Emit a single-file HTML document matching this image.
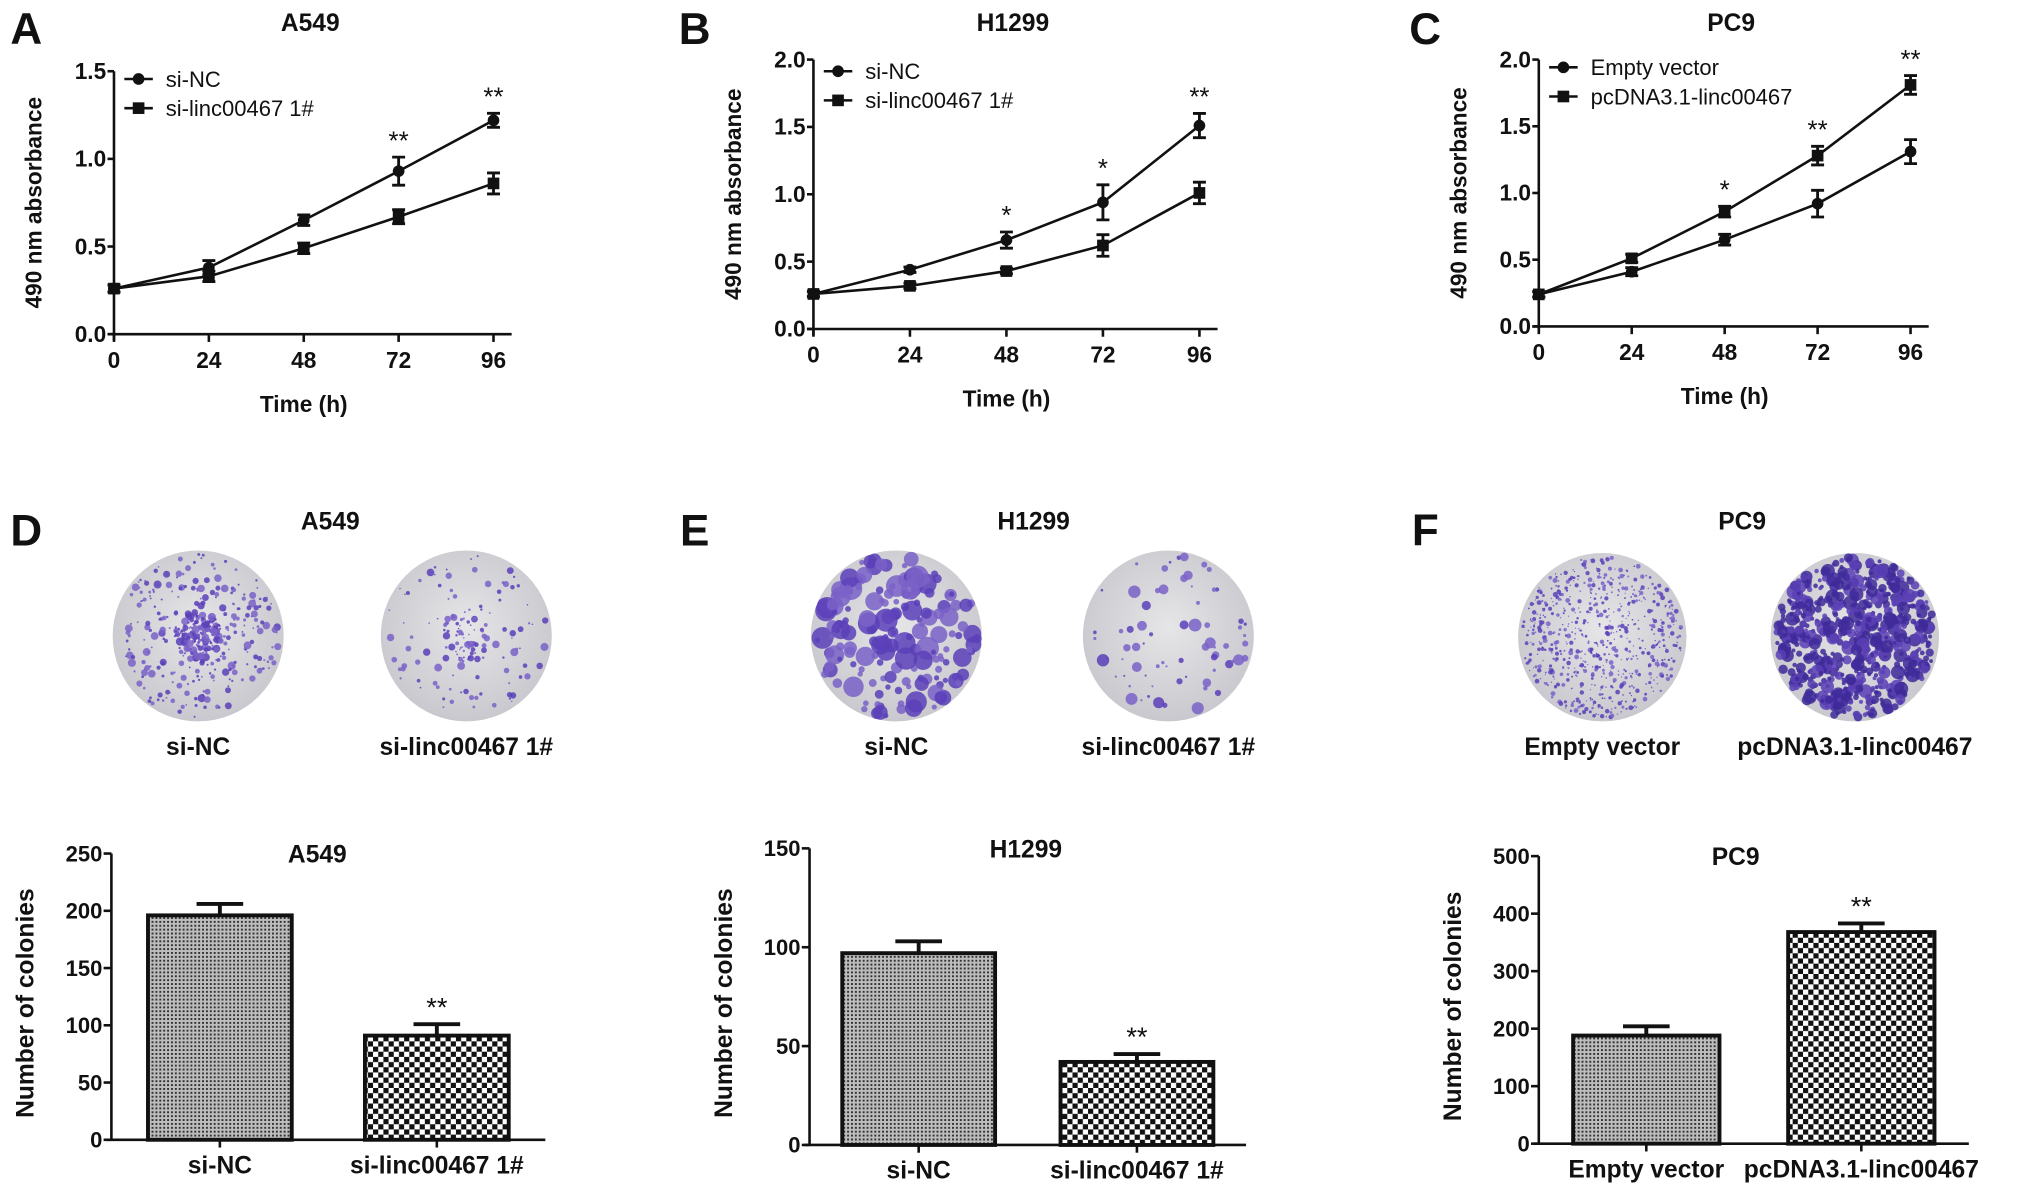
<!DOCTYPE html>
<html><head><meta charset="utf-8">
<style>
html,body{margin:0;padding:0;background:#fff;}
svg{display:block;font-family:"Liberation Sans",Arial,sans-serif;}
</style></head>
<body>
<svg id="fig" width="2031" height="1196" viewBox="0 0 1568 923.4" preserveAspectRatio="none" xmlns="http://www.w3.org/2000/svg">
<defs>
<pattern id="pFine" width="3" height="3" patternUnits="userSpaceOnUse"><rect width="3" height="3" fill="#bdbdbd"/><rect width="1.5" height="1.5" fill="#333"/></pattern>
<pattern id="pCheck" width="8" height="8" patternUnits="userSpaceOnUse"><rect width="8" height="8" fill="#fff"/><rect width="4" height="4" fill="#111"/><rect x="4" y="4" width="4" height="4" fill="#111"/></pattern>
<radialGradient id="dishBg" cx="50%" cy="45%" r="55%"><stop offset="0" stop-color="#e6e6e8"/><stop offset="1" stop-color="#c8c8ce"/></radialGradient>
</defs>
</svg>
<script>
// ---------- line chart data ----------
const times = [0, 24, 48, 72, 96];
const aNC = [0.26, 0.38, 0.65, 0.93, 1.22];
const aNCerr = [0.02, 0.04, 0.03, 0.08, 0.04];
const aSi = [0.26, 0.33, 0.49, 0.67, 0.86];
const aSiErr = [0.02, 0.03, 0.03, 0.04, 0.06];
const aStars = ["", "", "", "**", "**"];
const bNC = [0.26, 0.44, 0.66, 0.94, 1.51];
const bNCerr = [0.02, 0.02, 0.06, 0.13, 0.09];
const bSi = [0.26, 0.32, 0.43, 0.62, 1.01];
const bSiErr = [0.02, 0.02, 0.02, 0.08, 0.08];
const bStars = ["", "", "*", "*", "**"];
const cPc = [0.24, 0.51, 0.86, 1.28, 1.81];
const cPcErr = [0.02, 0.03, 0.04, 0.07, 0.07];
const cEv = [0.24, 0.41, 0.65, 0.92, 1.31];
const cEvErr = [0.02, 0.03, 0.04, 0.10, 0.09];
const cStars = ["", "", "*", "**", "**"];
const yTicksA = [0, 0.5, 1.0, 1.5];
const yTicksBC = [0, 0.5, 1.0, 1.5, 2.0];
// ---------- bar chart data ----------
const dCats = ["si-NC", "si-linc00467 1#"];
const dVals = [196, 91];
const dErr = [10, 10];
const eCats = ["si-NC", "si-linc00467 1#"];
const eVals = [97, 42];
const eErr = [6, 4];
const fCats = ["Empty vector", "pcDNA3.1-linc00467"];
const fVals = [188, 368];
const fErr = [16, 15];
const dTicks = [0, 50, 100, 150, 200, 250];
const eTicks = [0, 50, 100, 150];
const fTicks = [0, 100, 200, 300, 400, 500];

const NS = "http://www.w3.org/2000/svg";
const svg = document.getElementById("fig");
function mk(tag, attrs, parent, text) {
  const e = document.createElementNS(NS, tag);
  for (const k in attrs) e.setAttribute(k, attrs[k]);
  if (text !== undefined) e.textContent = text;
  (parent || svg).appendChild(e);
  return e;
}
function txt(x, y, s, size, opts, parent) {
  const o = Object.assign({x: x, y: y, "font-size": size, "text-anchor": "middle", "font-weight": "bold", fill: "#111"}, opts || {});
  return mk("text", o, parent, s);
}

function lineChart(cfg) {
  const g = mk("g", {});
  
  
  const X = v => cfg.x0 + (v - 0) / 96 * (cfg.x1 - cfg.x0);
  const Y = v => cfg.y0 - v / cfg.ymax * (cfg.y0 - cfg.y1);
  const ya = mk("line", {x1: cfg.x0, y1: Y(cfg.ymax), x2: cfg.x0, y2: cfg.y0 + 5, stroke: "#111", "stroke-width": 2}, g);
  
  
  const xa = mk("line", {x1: cfg.x0 - 5, y1: cfg.y0, x2: cfg.x1 + 14, y2: cfg.y0, stroke: "#111", "stroke-width": 2}, g);
  
  
  cfg.yticks.forEach(t => {
    mk("line", {x1: cfg.x0 - 5, y1: Y(t), x2: cfg.x0, y2: Y(t), stroke: "#111", "stroke-width": 2}, g);
    const l = txt(cfg.x0 - 6, Y(t) + 6, t.toFixed(1), 17.5, {"text-anchor": "end"}, g);
    
    
  });
  times.forEach(t => {
    mk("line", {x1: X(t), y1: cfg.y0, x2: X(t), y2: cfg.y0 + 6, stroke: "#111", "stroke-width": 2}, g);
    const l = txt(X(t), cfg.y0 + 26, String(t), 17.5, {}, g);
    
    
  });
  const yt = txt(0, 0, "490  nm absorbance", 17.5, {transform: `translate(${cfg.x0 - 56},${(cfg.y0 + Y(cfg.ymax)) / 2}) rotate(-90)`}, g);
  
  
  const xt = txt((cfg.x0 + cfg.x1) / 2, cfg.y0 + 60, "Time (h)", 17.5, {}, g);
  
  
  const tt = txt((cfg.x0 + cfg.x1) / 2 + 5, 24, cfg.title, 19, {}, g);
  
  
  const pl = txt(cfg.panelX, 34, cfg.panel, 34, {"text-anchor": "start"}, g);
  
  
  cfg.series.forEach(s => {
    const sg = mk("g", {}, g);
    
    
    const pts = times.map((t, i) => X(t) + "," + Y(s.vals[i])).join(" ");
    mk("polyline", {points: pts, fill: "none", stroke: "#111", "stroke-width": 2}, sg);
    times.forEach((t, i) => {
      const x = X(t), y = Y(s.vals[i]), e = s.err[i];
      const yt1 = Y(s.vals[i] + e), yt2 = Y(s.vals[i] - e);
      mk("path", {d: `M${x},${yt1}V${yt2}M${x - 5},${yt1}H${x + 5}M${x - 5},${yt2}H${x + 5}`, stroke: "#111", "stroke-width": 2.2, fill: "none"}, sg);
      if (s.marker === "circle") {
        const m = mk("circle", {cx: x, cy: y, r: 4.5, fill: "#111"}, sg);
        
        
      } else {
        const m = mk("rect", {x: x - 4.5, y: y - 4.5, width: 9, height: 9, fill: "#111"}, sg);
        
        
      }
      if (s.stars && s.stars[i]) {
        const st = txt(x, yt1 - 6, s.stars[i], 20, {"font-weight": "normal"}, sg);
        
        
      }
    });
  });
  cfg.legend.forEach((L, i) => {
    const lg = mk("g", {}, g);
    
    
    const ly = cfg.legY + i * 22.5;
    const lx = cfg.x0 + 8;
    mk("line", {x1: lx, y1: ly, x2: lx + 22, y2: ly, stroke: "#111", "stroke-width": 2}, lg);
    if (L.marker === "circle") mk("circle", {cx: lx + 11, cy: ly, r: 4.5, fill: "#111"}, lg);
    else mk("rect", {x: lx + 6.5, y: ly - 4.5, width: 9, height: 9, fill: "#111"}, lg);
    txt(lx + 32, ly + 6, L.label, 17, {"text-anchor": "start", "font-weight": "normal"}, lg);
  });
}

lineChart({name: "line-chart-a549", panel: "A", panelX: 8, title: "A549", x0: 88, x1: 381, y0: 258, y1: 55, ymax: 1.5, yticks: yTicksA, legY: 61,
  series: [{name: "series-si-nc", vals: aNC, err: aNCerr, marker: "circle", stars: aStars}, {name: "series-si-linc00467", vals: aSi, err: aSiErr, marker: "square"}],
  legend: [{label: "si-NC", marker: "circle"}, {label: "si-linc00467 1#", marker: "square"}]});
lineChart({name: "line-chart-h1299", panel: "B", panelX: 524, title: "H1299", x0: 628, x1: 926, y0: 254, y1: 46, ymax: 2.0, yticks: yTicksBC, legY: 55,
  series: [{name: "series-si-nc", vals: bNC, err: bNCerr, marker: "circle", stars: bStars}, {name: "series-si-linc00467", vals: bSi, err: bSiErr, marker: "square"}],
  legend: [{label: "si-NC", marker: "circle"}, {label: "si-linc00467 1#", marker: "square"}]});
lineChart({name: "line-chart-pc9", panel: "C", panelX: 1088, title: "PC9", x0: 1188, x1: 1475, y0: 252, y1: 46, ymax: 2.0, yticks: yTicksBC, legY: 52,
  series: [{name: "series-pcdna", vals: cPc, err: cPcErr, marker: "square", stars: cStars}, {name: "series-empty-vector", vals: cEv, err: cEvErr, marker: "circle"}],
  legend: [{label: "Empty vector", marker: "circle"}, {label: "pcDNA3.1-linc00467", marker: "square"}]});

// ---------- dishes (photo-like decoration) ----------
let seed = 12345;
function rnd() { seed = (seed * 16807) % 2147483647; return (seed - 1) / 2147483646; }
function dish(cx, cy, r, n, rmin, rmax, label, name, dark, cluster) {
  const g = mk("g", {});
  
  
  mk("circle", {cx: cx, cy: cy, r: r, fill: "url(#dishBg)"}, g);
  for (let i = 0; i < n; i++) {
    const a = rnd() * Math.PI * 2;
    let d = Math.sqrt(rnd()) * (r - 3);
    if (cluster && i % 3 === 0) d = d * 0.3;
    const rr = rmin + Math.pow(rnd(), 2) * (rmax - rmin);
    const col = dark ? (rnd() < 0.6 ? "#3f2a9a" : "#5a40b5") : (rnd() < 0.5 ? "#5b3fb8" : "#7a62c8");
    mk("circle", {cx: cx + Math.cos(a) * d, cy: cy + Math.sin(a) * d, r: Math.min(rr, r - d), fill: col, opacity: 0.85}, g);
  }
  const l = txt(cx, cy + r + 26, label, 19, {}, g);
  
  
}
[["D", 8, "A549", 255], ["E", 525, "H1299", 798], ["F", 1090, "PC9", 1345]].forEach(p => {
  const pl = txt(p[1], 421, p[0], 34, {"text-anchor": "start"});
  
  
  const t = txt(p[3], 409, p[2], 19);
  
  
});
dish(153, 491, 66, 420, 0.7, 3.2, "si-NC", "dish-a549-si-nc", false, true);
dish(360, 491, 66, 150, 0.6, 3.2, "si-linc00467 1#", "dish-a549-si-linc", false, true);
dish(692, 491, 66, 170, 2, 9, "si-NC", "dish-h1299-si-nc", false, false);
dish(902, 491, 66, 70, 0.8, 5, "si-linc00467 1#", "dish-h1299-si-linc", false, false);
dish(1237, 492, 65, 700, 0.5, 1.9, "Empty vector", "dish-pc9-empty", false, false);
dish(1432, 492, 65, 650, 1.5, 5.5, "pcDNA3.1-linc00467", "dish-pc9-pcdna", true, false);

// ---------- bar charts ----------
function barChart(cfg) {
  const g = mk("g", {});
  
  
  const ymax = cfg.ticks[cfg.ticks.length - 1];
  const Y = v => cfg.y0 - v / ymax * (cfg.y0 - cfg.y1);
  const n = cfg.cats.length;
  const slot = (cfg.xEnd - cfg.x0) / n;
  const X = i => cfg.x0 + slot * (i + 0.5);
  const ya = mk("line", {x1: cfg.x0, y1: cfg.y1, x2: cfg.x0, y2: cfg.y0, stroke: "#111", "stroke-width": 2}, g);
  
  
  const xa = mk("line", {x1: cfg.x0 - 4, y1: cfg.y0, x2: cfg.xEnd, y2: cfg.y0, stroke: "#111", "stroke-width": 2}, g);
  
  
  cfg.ticks.forEach(t => {
    mk("line", {x1: cfg.x0 - 6, y1: Y(t), x2: cfg.x0, y2: Y(t), stroke: "#111", "stroke-width": 2}, g);
    const l = txt(cfg.x0 - 7, Y(t) + 6, String(t), 17, {"text-anchor": "end"}, g);
    
    
  });
  const yt = txt(0, 0, "Number of colonies", 19, {transform: `translate(${cfg.x0 - 60},${(cfg.y0 + cfg.y1) / 2 + 5}) rotate(-90)`}, g);
  
  
  const tt = txt(cfg.titleX, cfg.y1 + 7, cfg.title, 19, {}, g);
  
  
  cfg.cats.forEach((c, i) => {
    const v = cfg.vals[i], e = cfg.err[i], x = X(i), w = cfg.bw;
    const b = mk("rect", {x: x - w / 2, y: Y(v), width: w, height: cfg.y0 - Y(v), fill: i === 0 ? "url(#pFine)" : "url(#pCheck)", stroke: "#111", "stroke-width": 3}, g);
    
    
    const eb = mk("path", {d: `M${x},${Y(v)}V${Y(v + e)}M${x - 18},${Y(v + e)}H${x + 18}`, stroke: "#111", "stroke-width": 3, fill: "none"}, g);
    
    
    mk("line", {x1: x, y1: cfg.y0, x2: x, y2: cfg.y0 + 6, stroke: "#111", "stroke-width": 2}, g);
    const l = txt(x, cfg.y0 + 26, c, 19, {}, g);
    
    
    if (i === 1) {
      const s = txt(x, Y(v + e) - 6, "**", 21, {"font-weight": "normal"}, g);
      
      
    }
  });
}
barChart({name: "bar-chart-a549", title: "A549", titleX: 245, cats: dCats, vals: dVals, err: dErr, ticks: dTicks, x0: 86, xEnd: 421, y0: 880, y1: 659, bw: 111});
barChart({name: "bar-chart-h1299", title: "H1299", titleX: 792, cats: eCats, vals: eVals, err: eErr, ticks: eTicks, x0: 625, xEnd: 962, y0: 884, y1: 655, bw: 118});
barChart({name: "bar-chart-pc9", title: "PC9", titleX: 1340, cats: fCats, vals: fVals, err: fErr, ticks: fTicks, x0: 1188, xEnd: 1520, y0: 883, y1: 661, bw: 113});
</script>
</body></html>
